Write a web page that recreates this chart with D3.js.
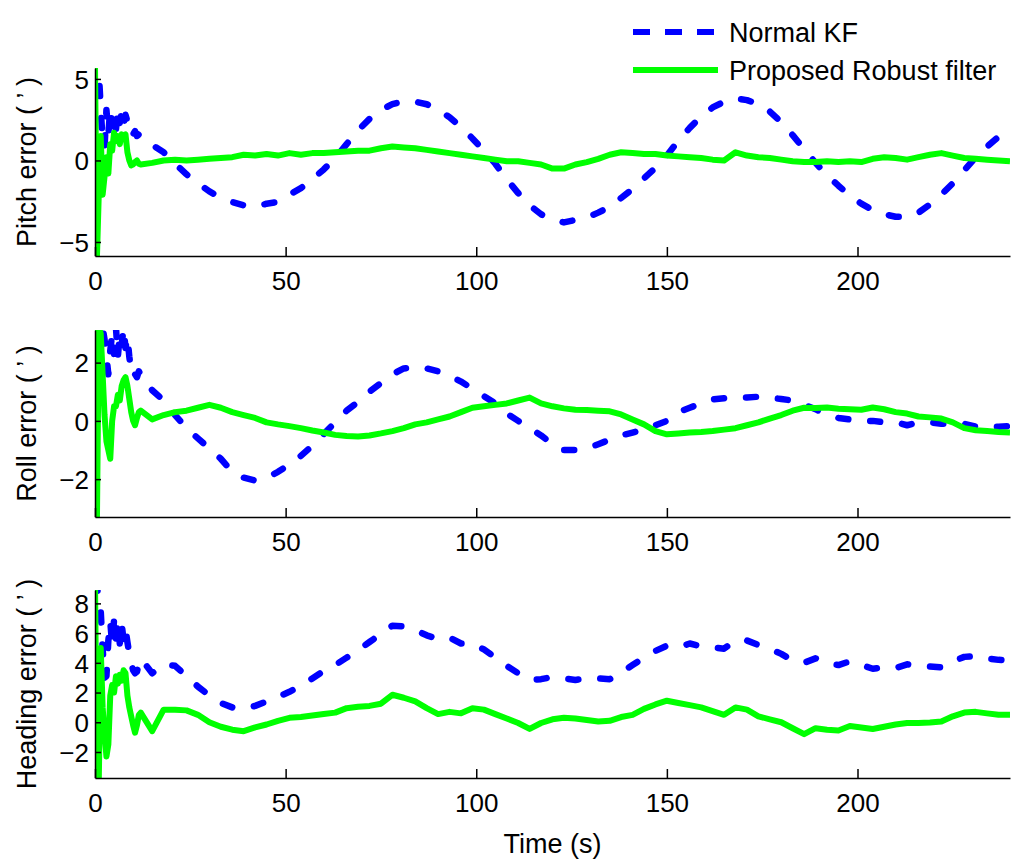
<!DOCTYPE html>
<html>
<head>
<meta charset="utf-8">
<script src="https://cdn.jsdelivr.net/npm/d3@7"></script>
<style>
  body { margin: 0; background: #fff; }
  svg text { font-family: "Liberation Sans", Arial, Helvetica, sans-serif; fill: #000; }
</style>
</head>
<body>
<svg id="chart" width="1024" height="861"></svg>
<script>
// time stamps (s)
const time = [0, 0.5, 1, 1.5, 2, 2.5, 3, 3.5, 4, 4.5, 5, 5.5, 6, 6.5, 7, 7.5, 8, 8.5, 9, 9.5, 10, 10.5, 11, 11.5,
    12, 15, 18, 21, 24, 27, 30, 33, 36, 39, 42, 45, 48, 51, 54, 57, 60, 63, 66, 69,
    72, 75, 78, 81, 84, 87, 90, 93, 96, 99, 102, 105, 108, 111, 114, 117, 120, 123, 126, 129,
    132, 135, 138, 141, 144, 147, 150, 153, 156, 159, 162, 165, 168, 171, 174, 177, 180, 183, 186, 189,
    192, 195, 198, 201, 204, 207, 210, 213, 216, 219, 222, 225, 228, 231, 234, 237, 240];

const pitchKF = [6.5, 6.0, 5.4, 3.2, 1.2, 0.8, 3.1, 1.6, 3.2, 2.1, 2.7, 1.9, 3.2, 2.3, 3.0, 2.2, 2.8, 2.4, 2.5, 1.7, 1.6, 1.8, 1.5, 1.6,
    1.45, 0.95, 0.5, -0.2, -0.85, -1.4, -1.9, -2.3, -2.55, -2.75, -2.85, -2.65, -2.55, -2.1, -1.7, -1.15, -0.55, 0.15, 1.0, 1.85,
    2.55, 3.1, 3.45, 3.65, 3.6, 3.45, 3.1, 2.65, 2.05, 1.35, 0.6, -0.2, -1.15, -2.0, -2.75, -3.3, -3.65, -3.8, -3.65, -3.5,
    -3.2, -2.85, -2.3, -1.75, -1.1, -0.45, 0.3, 1.2, 2.0, 2.7, 3.25, 3.6, 3.8, 3.7, 3.45, 3.0, 2.35, 1.55, 0.7, -0.15,
    -0.9, -1.55, -2.15, -2.65, -3.05, -3.3, -3.45, -3.45, -3.2, -2.7, -2.1, -1.4, -0.6, 0.2, 0.85, 1.45, 2.0];
const pitchRF = [5.8, -6.0, -2.0, 1.5, -2.1, -1.0, 0.2, -0.8, 1.0, 0.6, 1.7, 1.2, 1.5, 1.0, 1.6, 1.5, 1.6, 0.5, 0.0, -0.3, -0.25, -0.1, 0.0, -0.2,
    -0.25, -0.15, 0.0, 0.05, 0.0, 0.05, 0.1, 0.15, 0.2, 0.35, 0.3, 0.4, 0.3, 0.45, 0.35, 0.45, 0.45, 0.5, 0.55, 0.6,
    0.6, 0.75, 0.85, 0.8, 0.75, 0.65, 0.55, 0.45, 0.35, 0.25, 0.15, 0.05, -0.05, -0.05, -0.15, -0.25, -0.5, -0.5, -0.25, -0.1,
    0.1, 0.35, 0.5, 0.45, 0.4, 0.4, 0.3, 0.25, 0.2, 0.15, 0.05, 0.0, 0.5, 0.3, 0.2, 0.15, 0.05, -0.05, -0.1, -0.1,
    -0.05, -0.1, -0.05, -0.1, 0.1, 0.2, 0.15, 0.05, 0.2, 0.35, 0.45, 0.3, 0.15, 0.1, 0.05, 0.0, -0.05];

const rollKF = [4.0, 4.0, 3.8, 3.5, 3.2, 2.8, 2.2, 1.6, 2.4, 3.0, 2.3, 3.2, 2.2, 3.0, 2.6, 3.2, 2.5, 2.9, 2.2, 1.7, 1.8, 1.6, 1.5, 1.7,
    1.6, 1.05, 0.7, 0.2, -0.25, -0.6, -0.95, -1.3, -1.75, -1.95, -2.05, -1.95, -1.75, -1.5, -1.2, -0.85, -0.45, -0.05, 0.35, 0.65,
    1.0, 1.3, 1.6, 1.8, 1.85, 1.8, 1.7, 1.55, 1.35, 1.1, 0.85, 0.6, 0.25, 0.0, -0.25, -0.5, -0.8, -1.0, -1.0, -0.95,
    -0.8, -0.65, -0.5, -0.4, -0.3, -0.15, 0.0, 0.3, 0.45, 0.6, 0.74, 0.78, 0.8, 0.8, 0.83, 0.8, 0.75, 0.7, 0.55, 0.4,
    0.2, 0.1, 0.05, 0.0, 0.0, -0.05, -0.05, -0.15, -0.05, -0.05, -0.1, -0.1, -0.1, -0.2, -0.2, -0.2, -0.18];
const rollRF = [3.3, -3.5, 3.2, 3.0, 1.6, 0.2, -0.7, -1.0, -1.3, 0.0, 0.5, 0.5, 0.9, 0.7, 1.2, 1.4, 1.5, 1.2, 0.75, 0.3, 0.0, -0.15, 0.1, 0.3,
    0.35, 0.05, 0.2, 0.3, 0.35, 0.45, 0.55, 0.45, 0.3, 0.2, 0.1, -0.05, -0.12, -0.18, -0.25, -0.33, -0.4, -0.48, -0.52, -0.54,
    -0.5, -0.43, -0.35, -0.25, -0.12, -0.05, 0.05, 0.15, 0.3, 0.45, 0.5, 0.55, 0.6, 0.7, 0.8, 0.6, 0.5, 0.43, 0.38, 0.37,
    0.35, 0.33, 0.22, 0.05, -0.12, -0.35, -0.46, -0.43, -0.4, -0.38, -0.35, -0.3, -0.25, -0.15, -0.05, 0.08, 0.2, 0.35, 0.45, 0.44,
    0.46, 0.42, 0.4, 0.38, 0.46, 0.4, 0.3, 0.25, 0.15, 0.12, 0.08, -0.05, -0.25, -0.32, -0.35, -0.38, -0.4];

const headingKF = [9.5, 9.0, 8.5, 7.5, 5.0, 3.0, 3.1, 5.5, 6.8, 5.2, 6.9, 5.6, 6.8, 5.3, 6.6, 5.5, 6.3, 5.4, 4.6, 4.0, 3.5, 3.3, 3.4, 3.9,
    4.3, 3.3, 3.9, 3.8, 3.1, 2.4, 1.8, 1.3, 1.0, 0.9, 1.1, 1.4, 1.7, 2.05, 2.45, 2.95, 3.45, 3.85, 4.35, 4.85,
    5.4, 5.95, 6.5, 6.45, 6.2, 5.85, 5.6, 5.7, 5.3, 5.3, 4.9, 4.35, 3.8, 3.3, 2.85, 2.9, 3.05, 2.95, 2.85, 2.95,
    2.95, 2.9, 3.35, 3.85, 4.35, 4.8, 5.15, 5.05, 5.3, 5.1, 5.05, 4.95, 5.5, 5.5, 5.2, 4.95, 4.6, 4.15, 4.0, 4.3,
    3.95, 3.85, 4.1, 3.85, 3.6, 3.7, 3.65, 3.9, 3.8, 3.75, 3.7, 4.1, 4.4, 4.45, 4.3, 4.2, 4.15];
const headingRF = [9.5, -4.0, -3.8, 5.0, 1.0, -0.8, -2.3, -1.5, 1.8, 2.5, 2.0, 3.1, 2.6, 3.2, 2.8, 3.5, 3.3, 1.8, 1.0, 0.4, -0.2, -0.7, -0.2, 0.5,
    0.65, -0.6, 0.85, 0.85, 0.8, 0.5, 0.0, -0.3, -0.5, -0.6, -0.35, -0.15, 0.1, 0.3, 0.35, 0.45, 0.55, 0.65, 0.95, 1.05,
    1.1, 1.25, 1.85, 1.65, 1.4, 0.95, 0.55, 0.7, 0.6, 0.95, 0.85, 0.55, 0.25, -0.05, -0.45, -0.05, 0.2, 0.3, 0.25, 0.15,
    0.05, 0.1, 0.35, 0.5, 0.9, 1.2, 1.45, 1.3, 1.15, 1.0, 0.75, 0.5, 1.0, 0.85, 0.4, 0.2, 0.0, -0.4, -0.8, -0.4,
    -0.5, -0.55, -0.25, -0.35, -0.45, -0.3, -0.15, -0.05, -0.05, -0.02, 0.05, 0.4, 0.65, 0.7, 0.6, 0.5, 0.5];

const xTicks = [0, 50, 100, 150, 200];
const seriesNames = ['Normal KF', 'Proposed Robust filter'];

const panels = [
    {label: 'Pitch error ( \u2019 )', kf: pitchKF, rf: pitchRF, yDomain: [-5.86, 5.67], yTicks: [-5, 0, 5], top: 68, bottom: 256},
    {label: 'Roll error ( \u2019 )', kf: rollKF, rf: rollRF, yDomain: [-3.3, 3.12], yTicks: [-2, 0, 2], top: 330, bottom: 517},
    {label: 'Heading error ( \u2019 )', kf: headingKF, rf: headingRF, yDomain: [-3.75, 8.9], yTicks: [-2, 0, 2, 4, 6, 8], top: 590, bottom: 778}
];

const svg = d3.select('#chart');
const left = 95, right = 1010;
const blue = '#0000ff', green = '#00ff00';
const tickFont = '26px';

const x = d3.scaleLinear().domain([0, 240]).range([left, right]);

panels.forEach((p, i) => {
    const y = d3.scaleLinear().domain(p.yDomain).range([p.bottom, p.top]);

    svg.append('clipPath')
        .attr('id', `clip${i}`)
        .append('rect')
        .attr('x', left)
        .attr('y', p.top)
        .attr('width', right - left)
        .attr('height', p.bottom - p.top);

    const line = d3.line()
        .x((d, j) => x(time[j]))
        .y(d => y(d));

    const plot = svg.append('g').attr('clip-path', `url(#clip${i})`);

    plot.append('path')
        .datum(p.kf)
        .attr('d', line)
        .attr('fill', 'none')
        .attr('stroke', blue)
        .attr('stroke-width', 6.5)
        .attr('stroke-linecap', 'round')
        .attr('stroke-linejoin', 'round')
        .attr('stroke-dasharray', '10,22');

    plot.append('path')
        .datum(p.rf)
        .attr('d', line)
        .attr('fill', 'none')
        .attr('stroke', green)
        .attr('stroke-width', 6)
        .attr('stroke-linejoin', 'round');

    // x axis
    const xAxis = svg.append('g')
        .attr('transform', `translate(0, ${p.bottom})`)
        .call(d3.axisBottom(x).tickValues(xTicks).tickSize(-9).tickPadding(10).tickSizeOuter(0));
    xAxis.select('.domain').attr('stroke', '#000').attr('stroke-width', 1.5);
    xAxis.selectAll('.tick line').attr('stroke', '#000').attr('stroke-width', 1.5);
    xAxis.selectAll('.tick text')
        .attr('y', 34)
        .attr('dy', 0)
        .style('font-size', tickFont)
        .style('font-family', '"Liberation Sans", Arial, sans-serif');

    // y axis
    const yAxis = svg.append('g')
        .attr('transform', `translate(${left}, 0)`)
        .call(d3.axisLeft(y).tickValues(p.yTicks).tickSize(-6).tickPadding(0).tickSizeOuter(0)
            .tickFormat(d => d < 0 ? '\u2212' + Math.abs(d) : d));
    yAxis.select('.domain').attr('stroke', '#000').attr('stroke-width', 1.5);
    yAxis.selectAll('.tick line').attr('stroke', '#000').attr('stroke-width', 1.5);
    yAxis.selectAll('.tick text')
        .attr('x', -6)
        .attr('dy', '0.36em')
        .style('font-size', tickFont)
        .style('font-family', '"Liberation Sans", Arial, sans-serif');

    svg.append('text')
        .attr('transform', `translate(36, ${(p.top + p.bottom) / 2}) rotate(-90)`)
        .attr('text-anchor', 'middle')
        .attr('font-size', '27px')
        .text(p.label);
});

svg.append('text')
    .attr('x', (left + right) / 2)
    .attr('y', 853)
    .attr('text-anchor', 'middle')
    .attr('font-size', '27px')
    .text('Time (s)');

// legend
const legend = svg.append('g');
const legendRows = [
    {name: seriesNames[0], color: blue, dash: '17,15', y: 32},
    {name: seriesNames[1], color: green, dash: null, y: 70}
];
legendRows.forEach(r => {
    legend.append('line')
        .attr('x1', 633)
        .attr('x2', 718)
        .attr('y1', r.y)
        .attr('y2', r.y)
        .attr('stroke', r.color)
        .attr('stroke-width', 6)
        .attr('stroke-dasharray', r.dash);
    legend.append('text')
        .attr('x', 729)
        .attr('y', r.y)
        .attr('dy', '0.36em')
        .attr('font-size', '27px')
        .text(r.name);
});
</script>
</body>
</html>
